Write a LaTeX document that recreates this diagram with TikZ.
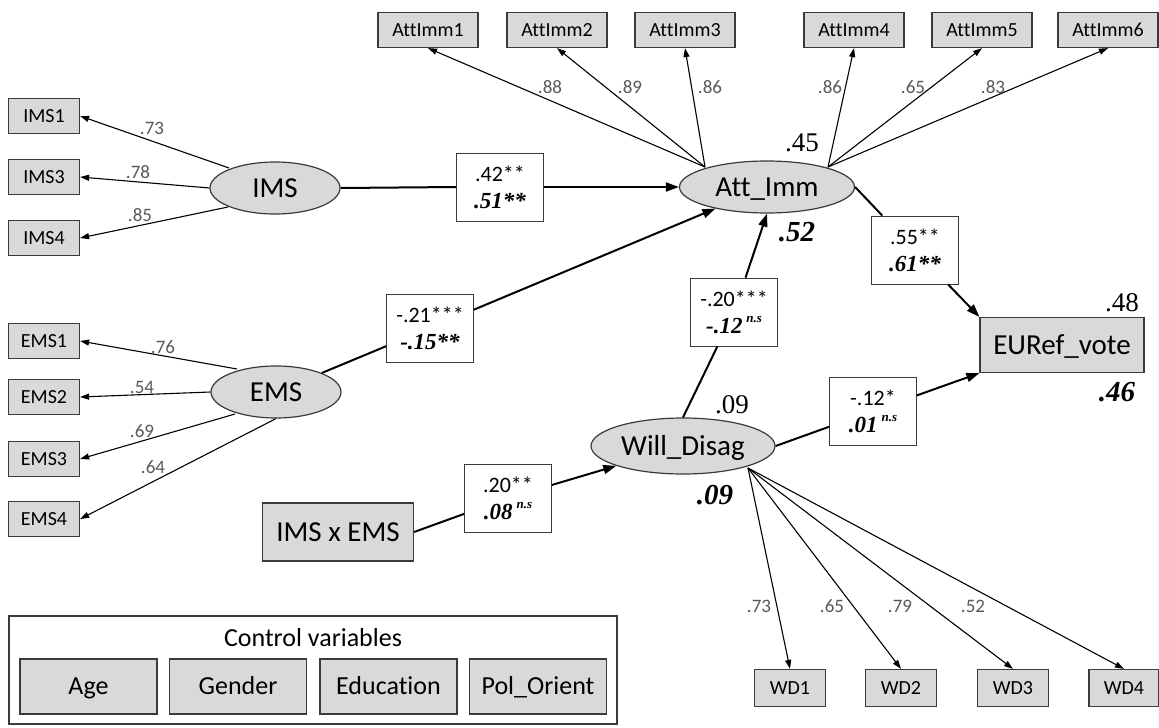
\documentclass[tikz,border=0pt]{standalone}
\usepackage{fontspec}
\setmainfont{Liberation Serif}
\newfontfamily\calfont[Ligatures=NoCommon]{Carlito}
\usetikzlibrary{arrows.meta,shapes.geometric}
\definecolor{boxgray}{HTML}{D9D9D9}
\definecolor{labgray}{HTML}{595959}
\definecolor{edgegray}{HTML}{3A3A3A}
\newcommand{\coefpair}[2]{{\calfont\fontsize{22}{27}\selectfont #1}\\{\bfseries\itshape\fontsize{23}{27}\selectfont #2}}
\newcommand{\nsup}{\,\raisebox{0.45em}{\fontsize{13}{13}\selectfont n.s}}
\begin{document}
\begin{tikzpicture}[x=1pt,y=-1pt,
 ind/.style={draw=edgegray, line width=1.2pt, fill=boxgray, font=\calfont\fontsize{20}{24}\selectfont, minimum width=71pt, minimum height=35pt, inner sep=0pt, text height=15pt, text depth=2.1pt},
 attind/.style={ind, minimum width=100pt},
 lat/.style={ellipse, draw=edgegray, line width=1.2pt, fill=boxgray, font=\calfont\fontsize{29}{34}\selectfont, inner sep=0pt, minimum width=130pt, minimum height=52pt, text height=21.7pt, text depth=3pt},
 coef/.style={draw=edgegray, line width=0.8pt, fill=white, minimum width=87pt, minimum height=68pt, inner sep=0pt, align=center, font=\fontsize{22}{27}\selectfont},
 load/.style={text=labgray, font=\calfont\fontsize{19}{22}\selectfont, inner sep=0pt},
 ldarr/.style={draw=black, line width=1.1pt, -{Triangle[length=9pt,width=6pt]}},
 strline/.style={draw=black, line width=2pt},
 strarr/.style={strline, -{Triangle[length=13pt,width=9pt]}},
 rsq/.style={font=\fontsize{27}{30}\selectfont, inner sep=0pt},
 rsqb/.style={font=\bfseries\itshape\fontsize{29}{32}\selectfont, inner sep=0pt},
 bigbox/.style={draw=edgegray, line width=1.2pt, fill=boxgray, font=\calfont\fontsize{29}{34}\selectfont, inner sep=0pt, text height=21.7pt, text depth=3pt},
 ctrlbox/.style={draw=edgegray, line width=1.2pt, fill=boxgray, font=\calfont\fontsize{26}{30}\selectfont, inner sep=0pt, minimum width=137pt, minimum height=55pt, text height=19.5pt, text depth=2.8pt}
]
\useasboundingbox (0,0) rectangle (1159,728);
\fill[white] (0,0) rectangle (1159,728);

% indicators left
\node[ind] (ims1) at (44,116) {IMS1};
\node[ind] (ims3) at (44,177) {IMS3};
\node[ind] (ims4) at (44,238) {IMS4};
\node[ind] (ems1) at (44,341) {EMS1};
\node[ind] (ems2) at (44,397) {EMS2};
\node[ind] (ems3) at (44,459) {EMS3};
\node[ind] (ems4) at (44,519) {EMS4};

% top indicators
\node[attind] (a1) at (428,30) {AttImm1};
\node[attind] (a2) at (557,30) {AttImm2};
\node[attind] (a3) at (685,30) {AttImm3};
\node[attind] (a4) at (854,30) {AttImm4};
\node[attind] (a5) at (982,30) {AttImm5};
\node[attind] (a6) at (1108,30) {AttImm6};

% WD indicators
\node[ind, minimum height=37pt] (wd1) at (790,688) {WD1};
\node[ind, minimum height=37pt] (wd2) at (901,688) {WD2};
\node[ind, minimum height=37pt] (wd3) at (1013,688) {WD3};
\node[ind, minimum height=37pt, minimum width=70pt] (wd4) at (1124,688) {WD4};

% latent variables
\node[lat] (ims) at (275,188) {IMS};
\node[lat] (ems) at (276,392) {EMS};
\node[lat, minimum width=175pt] (att) at (767,187) {Att\_Imm};
\node[lat, minimum width=184pt, minimum height=56pt] (will) at (683,446) {Will\_Disag};
\node[bigbox, minimum width=164pt, minimum height=55pt] (eu) at (1062,345) {EURef\_vote};
\node[bigbox, minimum width=151pt, minimum height=58pt] (ixe) at (338,532) {IMS x EMS};

% coefficient boxes
\node[coef] (b1) at (500,187) {\coefpair{.42**}{.51**}};
\node[coef] (b2) at (430,328) {\coefpair{-.21***}{-.15**}};
\node[coef] (b3) at (734,312) {\coefpair{-.20***}{-.12\nsup}};
\node[coef] (b4) at (915,250) {\coefpair{.55**}{.61**}};
\node[coef] (b5) at (873,411) {\coefpair{-.12*}{.01\nsup}};
\node[coef] (b6) at (508,498) {\coefpair{.20**}{.08\nsup}};

% fan origins
\coordinate (imsA) at (229,168);
\coordinate (imsC) at (228,207);
\coordinate (emsA) at (237,369);
\coordinate (emsC) at (235,414);
\coordinate (attL) at (705,167);
\coordinate (attR) at (828,167);
\coordinate (willF) at (748,468);

% loadings
\draw[ldarr] (imsA) -- (ims1.east);
\draw[ldarr] (ims.west) -- (ims3.east);
\draw[ldarr] (imsC) -- (ims4.east);
\draw[ldarr] (emsA) -- (ems1.east);
\draw[ldarr] (ems.west) -- (ems2.east);
\draw[ldarr] (emsC) -- (ems3.east);
\draw[ldarr] (ems.south) -- (ems4.east);
\draw[ldarr] (attL) -- (a1.south);
\draw[ldarr] (attL) -- (a2.south);
\draw[ldarr] (attL) -- (a3.south);
\draw[ldarr] (attR) -- (a4.south);
\draw[ldarr] (attR) -- (a5.south);
\draw[ldarr] (attR) -- (a6.south);
\draw[ldarr] (willF) -- (wd1.north);
\draw[ldarr] (willF) -- (wd2.north);
\draw[ldarr] (willF) -- (wd3.north);
\draw[ldarr] (willF) -- (wd4.north);

\node[load] (l1) at (152,128) {.73};
\node[load] (l2) at (138,172) {.78};
\node[load] (l3) at (140,215) {.85};
\node[load] (l4) at (163,347) {.76};
\node[load] (l5) at (142,387) {.54};
\node[load] (l6) at (142,431) {.69};
\node[load] (l7) at (153,467) {.64};
\node[load] (l8) at (550,87) {.88};
\node[load] (l9) at (630,87) {.89};
\node[load] (l10) at (710,87) {.86};
\node[load] (l11) at (830,87) {.86};
\node[load] (l12) at (913,87) {.65};
\node[load] (l13) at (993,87) {.83};
\node[load] (l14) at (759,606) {.73};
\node[load] (l15) at (832,606) {.65};
\node[load] (l16) at (900,606) {.79};
\node[load] (l17) at (973,606) {.52};

% structural paths
\draw[strline] (ims.east) -- (b1.west);
\draw[strarr] (b1.east) -- (att.west);
\draw[strline] (ems) -- (b2);
\draw[strarr] (b2) -- (att);
\draw[strline] (will.north) -- (b3);
\draw[strarr] (b3) -- (att.south);
\draw[strline] (att.east) -- (b4);
\draw[strarr] (b4) -- (eu.north west);
\draw[strline] (will.east) -- (b5);
\draw[strarr] (b5) -- (eu.south west);
\draw[strline] (ixe.east) -- (b6);
\draw[strarr] (b6) -- (will);

% R squared
\node[rsq] (r1) at (802,143) {.45};
\node[rsqb] (r2) at (797,232) {.52};
\node[rsq] (r3) at (732,405) {.09};
\node[rsqb] (r4) at (715,495) {.09};
\node[rsq] (r5) at (1122,303) {.48};
\node[rsqb] (r6) at (1117,392) {.46};

% control variables
\draw[draw=edgegray, line width=1.2pt] (9,616) rectangle (617,724);
\node[font=\calfont\fontsize{26}{30}\selectfont, inner sep=0pt] (ctitle) at (313,638) {Control variables};
\node[ctrlbox] (c1) at (88.5,686.5) {Age};
\node[ctrlbox] (c2) at (238,686.5) {Gender};
\node[ctrlbox] (c3) at (388.5,686.5) {Education};
\node[ctrlbox] (c4) at (538,686.5) {Pol\_Orient};
\end{tikzpicture}
\end{document}
